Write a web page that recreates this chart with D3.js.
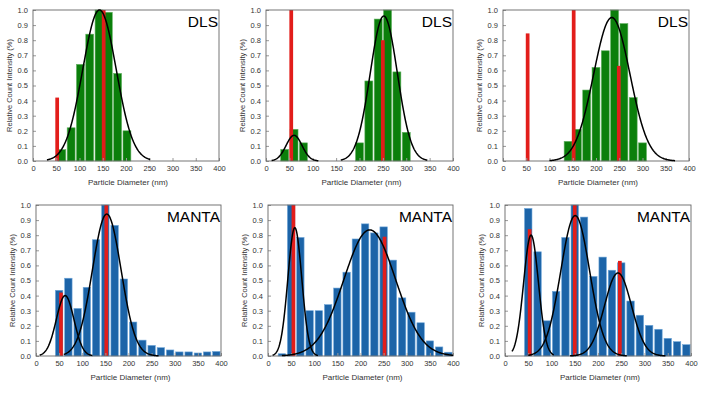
<!DOCTYPE html>
<html>
<head>
<meta charset="utf-8">
<script src="https://cdn.jsdelivr.net/npm/d3@7"></script>
<style>
  html, body { margin: 0; padding: 0; background: #fff; }
  svg { display: block; font-family: "Liberation Sans", Arial, sans-serif; }
</style>
</head>
<body>
<svg id="chart" width="704" height="395"></svg>
<script>
// ---------------- DATA ----------------
const xTicks = [0, 50, 100, 150, 200, 250, 300, 350, 400];
const yTicks = [0.0, 0.1, 0.2, 0.3, 0.4, 0.5, 0.6, 0.7, 0.8, 0.9, 1.0];
const panelTitles = ["DLS", "DLS", "DLS", "MANTA", "MANTA", "MANTA"];
const xLabel = "Particle Diameter (nm)";
const yLabel = "Relative Count Intensity (%)";

// histogram bins (nm) and relative intensities
const p1Sizes = [62, 82, 102, 122, 142, 162, 182, 202];
const p1Values = [0.075, 0.22, 0.64, 0.84, 1.0, 0.985, 0.58, 0.20];
const p2Sizes = [40, 60, 80, 200, 220, 240, 260, 280, 300];
const p2Values = [0.077, 0.21, 0.12, 0.12, 0.53, 0.94, 1.0, 0.59, 0.19];
const p3Sizes = [140, 160, 180, 200, 220, 240, 260, 280, 300];
const p3Values = [0.13, 0.21, 0.47, 0.62, 0.73, 1.0, 0.91, 0.42, 0.12];
const p4Sizes = [50, 70, 90, 110, 130, 150, 170, 190, 210, 230, 250, 270, 290, 310, 330, 350, 370, 390];
const p4Values = [0.435, 0.515, 0.315, 0.455, 0.77, 1.0, 0.865, 0.51, 0.225, 0.105, 0.07, 0.055, 0.04, 0.027, 0.027, 0.02, 0.027, 0.03];
const p5Sizes = [30, 50, 70, 90, 110, 130, 150, 170, 190, 210, 230, 250, 270, 290, 310, 330, 350, 370, 390];
const p5Values = [0.015, 1.0, 0.785, 0.30, 0.30, 0.34, 0.45, 0.555, 0.775, 0.875, 0.815, 0.855, 0.635, 0.385, 0.29, 0.22, 0.10, 0.06, 0.025];
const p6Sizes = [50, 70, 90, 110, 130, 150, 170, 190, 210, 230, 250, 270, 290, 310, 330, 350, 370, 390];
const p6Values = [0.977, 0.69, 0.233, 0.428, 0.785, 1.0, 0.92, 0.527, 0.655, 0.568, 0.617, 0.364, 0.27, 0.203, 0.177, 0.117, 0.095, 0.075];

// nominal sizes (red markers) and heights
const p1RefSizes = [52, 152];        const p1RefValues = [0.42, 1.0];
const p2RefSizes = [54, 250];        const p2RefValues = [1.0, 0.80];
const p3RefSizes = [53, 152, 249];   const p3RefValues = [0.845, 1.0, 0.63];
const p4RefSizes = [54, 152];        const p4RefValues = [0.42, 1.0];
const p5RefSizes = [55, 252];        const p5RefValues = [1.0, 0.79];
const p6RefSizes = [53, 150, 247];   const p6RefValues = [0.84, 1.0, 0.63];

// Gaussian fit parameters: [mean, sd, peak, drawFrom, drawTo]
const p1Fits = [[143, 36, 1.0, 30, 252]];
const p2Fits = [[60, 17, 0.17, 12, 112], [252, 29, 0.96, 160, 345]];
const p3Fits = [[234, 39, 0.95, 100, 370]];
const p4Fits = [[63, 19, 0.40, 8, 122], [153, 31, 0.94, 60, 265]];
const p5Fits = [[58, 15, 0.85, 10, 108], [220, 56, 0.835, 30, 400]];
const p6Fits = [[56, 16, 0.80, 15, 105], [151, 31, 0.93, 50, 262], [243, 29, 0.55, 140, 345]];

// ---------------- LAYOUT ----------------
const layout = [
  {l: 33,  r: 219, t: 10,  b: 161, color: "#0b7f0b", edge: "#62b062", bw: 17},
  {l: 266, r: 453, t: 10,  b: 161, color: "#0b7f0b", edge: "#62b062", bw: 17},
  {l: 503, r: 689, t: 10,  b: 161, color: "#0b7f0b", edge: "#62b062", bw: 17},
  {l: 36,  r: 221, t: 205, b: 356, color: "#1c64a8", edge: "#6fa6d8", bw: 16},
  {l: 268, r: 453, t: 205, b: 356, color: "#1c64a8", edge: "#6fa6d8", bw: 16},
  {l: 505, r: 691, t: 205, b: 356, color: "#1c64a8", edge: "#6fa6d8", bw: 16}
];
const panelData = [
  {sizes: p1Sizes, values: p1Values, refS: p1RefSizes, refV: p1RefValues, fits: p1Fits},
  {sizes: p2Sizes, values: p2Values, refS: p2RefSizes, refV: p2RefValues, fits: p2Fits},
  {sizes: p3Sizes, values: p3Values, refS: p3RefSizes, refV: p3RefValues, fits: p3Fits},
  {sizes: p4Sizes, values: p4Values, refS: p4RefSizes, refV: p4RefValues, fits: p4Fits},
  {sizes: p5Sizes, values: p5Values, refS: p5RefSizes, refV: p5RefValues, fits: p5Fits},
  {sizes: p6Sizes, values: p6Values, refS: p6RefSizes, refV: p6RefValues, fits: p6Fits}
];

const svg = d3.select("#chart");

layout.forEach((L, i) => {
  const D = panelData[i];
  const x = d3.scaleLinear().domain([0, 400]).range([L.l, L.r]);
  const y = d3.scaleLinear().domain([0, 1]).range([L.b, L.t]);
  const g = svg.append("g");

  // histogram bars
  const bars = D.sizes.map((s, k) => ({s, v: D.values[k]}));
  g.selectAll("rect.bar").data(bars).enter().append("rect")
    .attr("class", "bar")
    .attr("x", d => x(d.s - L.bw / 2))
    .attr("width", d => x(L.bw) - x(0))
    .attr("y", d => y(d.v))
    .attr("height", d => y(0) - y(d.v))
    .attr("fill", L.color)
    .attr("stroke", L.edge)
    .attr("stroke-width", 0.6);

  // red reference bars
  const refs = D.refS.map((s, k) => ({s, v: D.refV[k]}));
  g.selectAll("rect.ref").data(refs).enter().append("rect")
    .attr("class", "ref")
    .attr("x", d => x(d.s - 4))
    .attr("width", d => x(8) - x(0))
    .attr("y", d => y(d.v))
    .attr("height", d => y(0) - y(d.v))
    .attr("fill", "#e21d1a");

  // axes (inward ticks)
  const xAxis = d3.axisBottom(x).tickValues(xTicks).tickSize(-3).tickPadding(5)
    .tickFormat(d3.format("d"));
  const yAxis = d3.axisLeft(y).tickValues(yTicks).tickSize(-3).tickPadding(5)
    .tickFormat(d3.format(".1f"));
  const gx = g.append("g").attr("transform", `translate(0,${L.b})`).call(xAxis);
  const gy = g.append("g").attr("transform", `translate(${L.l},0)`).call(yAxis);
  [gx, gy].forEach(a => {
    a.select(".domain").remove();
    a.selectAll(".tick line").attr("stroke", "#999");
    a.selectAll(".tick text").attr("font-size", 7.5).attr("fill", "#333")
      .attr("font-family", "'Liberation Sans', Arial, sans-serif");
  });

  // frame
  g.append("rect")
    .attr("x", L.l).attr("y", L.t)
    .attr("width", L.r - L.l).attr("height", L.b - L.t)
    .attr("fill", "none").attr("stroke", "#666").attr("stroke-width", 0.9);

  // fit curves
  const line = d3.line().x(p => x(p[0])).y(p => y(p[1])).curve(d3.curveLinear);
  D.fits.forEach(f => {
    const [mu, sd, amp, a, b] = f;
    const pts = d3.range(a, b + 0.5, 1).map(t => [t, amp * Math.exp(-0.5 * ((t - mu) / sd) ** 2)]);
    g.append("path").datum(pts).attr("d", line)
      .attr("fill", "none").attr("stroke", "#000").attr("stroke-width", 1.5);
  });

  // title
  g.append("text")
    .attr("x", L.r - 1).attr("y", L.t + 17)
    .attr("text-anchor", "end")
    .attr("font-size", 15.5)
    .attr("fill", "#000")
    .text(panelTitles[i]);

  // axis titles
  g.append("text")
    .attr("x", (L.l + L.r) / 2 + 2).attr("y", L.b + 24)
    .attr("text-anchor", "middle").attr("font-size", 8).attr("fill", "#333")
    .text(xLabel);
  g.append("text")
    .attr("transform", `translate(${L.l - 21},${(L.t + L.b) / 2}) rotate(-90)`)
    .attr("text-anchor", "middle").attr("font-size", 7.5).attr("fill", "#333")
    .text(yLabel);
});
</script>
</body>
</html>
